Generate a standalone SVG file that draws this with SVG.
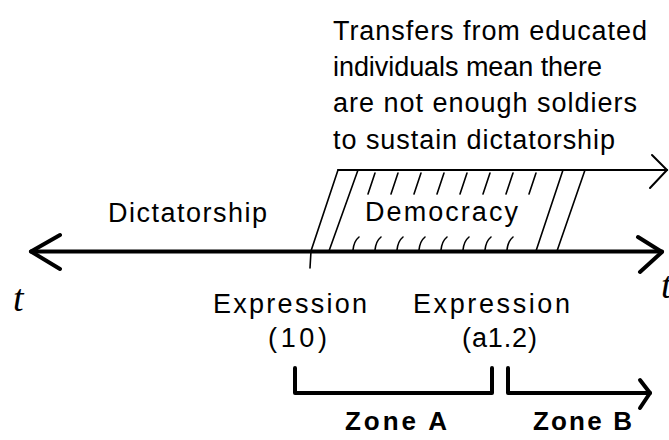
<svg xmlns="http://www.w3.org/2000/svg" width="669" height="440" viewBox="0 0 669 440">
<style>
.t{font-family:"Liberation Sans",Arial,sans-serif;font-size:27px;fill:#000}
.b{font-family:"Liberation Sans",Arial,sans-serif;font-size:26px;font-weight:bold;fill:#000}
.v{font-family:"Liberation Serif","Times New Roman",serif;font-style:italic;font-size:38px;fill:#000}
.thick{stroke:#000;stroke-width:4;fill:none;stroke-linecap:round;stroke-linejoin:round}
.thin{stroke:#000;stroke-width:2;fill:none;stroke-linecap:round}
.h{stroke:#000;stroke-width:1.6;fill:none;stroke-linecap:round}
</style>
<rect width="669" height="440" fill="#fff"/>
<g id="connectors">
  <path id="axis" class="thick" d="M31 251.5 H662"/>
  <path class="thick" d="M60 235 L31 251.5 L60 269"/>
  <path class="thick" d="M638 237 L662 252 L640 272"/>
  <path id="transfers-arrow" class="thin" d="M338 170 H667"/>
  <path class="thin" d="M652 155 L667 170 L650 188"/>
  <path id="zoneA-bracket" class="thick" d="M295 368 V393 H492 V368"/>
  <path id="zoneB-arrow" class="thick" d="M508 368 V393 H650"/>
  <path class="thick" d="M640 380 L650 393 L640 408"/>
</g>
<g id="democracy-region">
  <path class="h" d="M338 170 L311 251 L310 268"/>
  <path class="h" d="M358 170 L329 251"/>
  <path class="h" d="M563 170 L536 251"/>
  <path class="h" d="M585 170 L557 251"/>
  <g id="hatch-top">
    <path class="h" d="M375 173 L368 194"/>
    <path class="h" d="M398 173 L391 194"/>
    <path class="h" d="M421 173 L414 194"/>
    <path class="h" d="M444 173 L437 194"/>
    <path class="h" d="M467 173 L460 194"/>
    <path class="h" d="M490 173 L483 194"/>
    <path class="h" d="M513 173 L506 194"/>
    <path class="h" d="M536 173 L529 194"/>
  </g>
  <g id="hatch-bottom">
    <path class="h" d="M359 237 Q354 241 353 250"/>
    <path class="h" d="M381 237 Q376 241 375 250"/>
    <path class="h" d="M403 237 Q398 241 397 250"/>
    <path class="h" d="M425 237 Q420 241 419 250"/>
    <path class="h" d="M447 237 Q442 241 441 250"/>
    <path class="h" d="M469 237 Q464 241 463 250"/>
    <path class="h" d="M491 237 Q486 241 485 250"/>
    <path class="h" d="M513 237 Q508 241 507 250"/>
  </g>
  <text class="t" x="365" y="221" textLength="153" lengthAdjust="spacing">Democracy</text>
</g>
<g id="transfers-label">
  <text class="t" x="333" y="40" textLength="314" lengthAdjust="spacing">Transfers from educated</text>
  <text class="t" x="333" y="76" textLength="269" lengthAdjust="spacing">individuals mean there</text>
  <text class="t" x="333" y="112" textLength="304" lengthAdjust="spacing">are not enough soldiers</text>
  <text class="t" x="333" y="149" textLength="282" lengthAdjust="spacing">to sustain dictatorship</text>
</g>
<g id="dictatorship">
  <text class="t" x="108" y="222" textLength="159" lengthAdjust="spacing">Dictatorship</text>
</g>
<g id="t-left"><text class="v" x="13" y="311">t</text></g>
<g id="t-right"><text class="v" x="661" y="298">t</text></g>
<g id="expr10">
  <text class="t" x="213" y="313" textLength="154" lengthAdjust="spacing">Expression</text>
  <text class="t" x="268" y="347" textLength="59" lengthAdjust="spacing">(10)</text>
</g>
<g id="expra12">
  <text class="t" x="413" y="313" textLength="157" lengthAdjust="spacing">Expression</text>
  <text class="t" x="462" y="347" textLength="75" lengthAdjust="spacing">(a1.2)</text>
</g>
<g id="zoneA"><text class="b" x="345" y="430" textLength="102" lengthAdjust="spacing">Zone A</text></g>
<g id="zoneB"><text class="b" x="533" y="430" textLength="99" lengthAdjust="spacing">Zone B</text></g>
</svg>
